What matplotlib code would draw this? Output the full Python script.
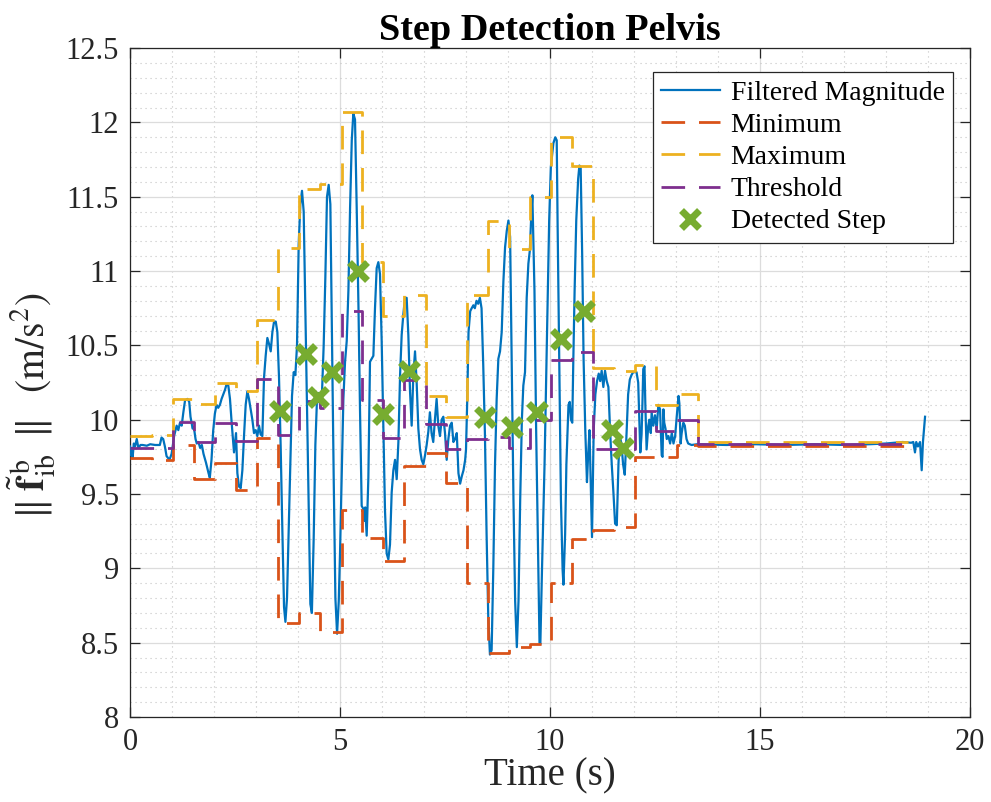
import matplotlib
matplotlib.use("Agg")
import matplotlib.pyplot as plt
from matplotlib.ticker import MultipleLocator, FuncFormatter

plt.rcParams['font.family'] = ['Liberation Serif', 'DejaVu Serif']
plt.rcParams['mathtext.fontset'] = 'stix'

# ---------------- data ----------------
time_s = [0.00, 0.02, 0.04, 0.06, 0.09, 0.12, 0.16, 0.20, 0.25, 0.30, 0.40, 0.48, 0.60, 0.71, 0.75,
          0.79, 0.83, 0.87, 0.94, 0.99, 1.05, 1.11, 1.15, 1.19, 1.23, 1.27, 1.31, 1.37, 1.41, 1.44,
          1.49, 1.52, 1.56, 1.59, 1.63, 1.67, 1.71, 1.75, 1.81, 1.87, 1.90, 1.94, 1.98, 2.02, 2.06,
          2.10, 2.14, 2.18, 2.22, 2.26, 2.30, 2.34, 2.38, 2.42, 2.476, 2.524, 2.556, 2.595, 2.635, 2.675,
          2.714, 2.754, 2.794, 2.833, 2.873, 2.913, 2.952, 2.992, 3.032, 3.071, 3.111, 3.151, 3.19, 3.23, 3.27,
          3.31, 3.35, 3.39, 3.43, 3.47, 3.508, 3.548, 3.587, 3.627, 3.667, 3.70, 3.738, 3.778, 3.817, 3.857,
          3.897, 3.937, 3.976, 4.016, 4.056, 4.095, 4.135, 4.175, 4.214, 4.254, 4.294, 4.33, 4.373, 4.413, 4.452,
          4.492, 4.532, 4.571, 4.611, 4.651, 4.69, 4.73, 4.77, 4.81, 4.85, 4.89, 4.93, 4.97, 5.00, 5.04,
          5.08, 5.12, 5.16, 5.20, 5.24, 5.28, 5.317, 5.357, 5.397, 5.44, 5.476, 5.516, 5.556, 5.58, 5.60,
          5.635, 5.675, 5.714, 5.754, 5.794, 5.833, 5.873, 5.913, 5.952, 5.992, 6.032, 6.071, 6.111, 6.151, 6.19,
          6.23, 6.27, 6.31, 6.35, 6.39, 6.43, 6.468, 6.508, 6.548, 6.587, 6.627, 6.667, 6.706, 6.746, 6.786,
          6.825, 6.865, 6.905, 6.944, 6.984, 7.024, 7.063, 7.103, 7.14, 7.18, 7.22, 7.26, 7.30, 7.34, 7.38,
          7.42, 7.46, 7.50, 7.54, 7.58, 7.62, 7.66, 7.70, 7.74, 7.78, 7.82, 7.86, 7.90, 7.94, 7.98,
          8.00, 8.03, 8.06, 8.10, 8.135, 8.175, 8.21, 8.25, 8.29, 8.33, 8.37, 8.41, 8.45, 8.49, 8.53,
          8.57, 8.61, 8.65, 8.69, 8.73, 8.77, 8.81, 8.85, 8.89, 8.93, 8.97, 9.01, 9.05, 9.09, 9.13,
          9.17, 9.21, 9.25, 9.29, 9.33, 9.365, 9.405, 9.445, 9.485, 9.52, 9.55, 9.58, 9.63, 9.67, 9.71,
          9.75, 9.77, 9.81, 9.87, 9.91, 9.95, 9.98, 10.02, 10.08, 10.125, 10.16, 10.18, 10.22, 10.26, 10.30,
          10.32, 10.36, 10.39, 10.44, 10.47, 10.50, 10.53, 10.555, 10.586, 10.625, 10.67, 10.70, 10.73, 10.766, 10.80,
          10.84, 10.88, 10.906, 10.94, 10.96, 11.00, 11.04, 11.08, 11.12, 11.16, 11.195, 11.23, 11.27, 11.31, 11.35,
          11.39, 11.43, 11.47, 11.51, 11.55, 11.59, 11.63, 11.66, 11.70, 11.74, 11.78, 11.82, 11.86, 11.90, 11.94,
          11.98, 12.06, 12.10, 12.15, 12.18, 12.20, 12.22, 12.25, 12.27, 12.30, 12.34, 12.365, 12.40, 12.42, 12.46,
          12.50, 12.54, 12.58, 12.62, 12.66, 12.68, 12.70, 12.72, 12.75, 12.78, 12.82, 12.86, 12.90, 12.94, 12.98,
          13.02, 13.06, 13.08, 13.11, 13.135, 13.175, 13.21, 13.25, 13.29, 13.37, 13.5, 14.2, 14.9, 15.6, 16.3,
          17.0, 17.6, 18.0, 18.4, 18.6, 18.65, 18.69, 18.72, 18.76, 18.81, 18.85, 18.88, 18.93]

filtered_mag = [9.82, 9.76, 9.81, 9.74, 9.84, 9.82, 9.87, 9.81, 9.83, 9.83, 9.825, 9.835, 9.83, 9.83, 9.88,
                9.87, 9.82, 9.755, 9.73, 9.77, 9.89, 9.96, 9.93, 9.98, 9.96, 10.05, 10.13, 10.14, 10.12, 10.02,
                9.94, 9.95, 9.87, 9.84, 9.85, 9.81, 9.83, 9.77, 9.71, 9.64, 9.61, 9.73, 9.925, 10.04, 10.10,
                10.08, 10.10, 10.14, 10.17, 10.20, 10.24, 10.23, 10.14, 9.98, 9.78, 9.91, 9.64, 9.55, 9.54, 9.66,
                9.89, 10.10, 10.19, 10.14, 10.07, 10.00, 9.91, 9.93, 9.89, 9.96, 9.90, 9.89, 10.28, 10.43, 10.55,
                10.51, 10.46, 10.59, 10.66, 10.66, 10.59, 10.28, 9.82, 9.26, 8.74, 8.64, 8.80, 9.26, 9.71, 10.16,
                10.32, 10.30, 10.50, 11.18, 11.45, 11.54, 11.40, 10.73, 10.05, 9.37, 8.76, 8.70, 9.20, 9.83, 10.14,
                10.18, 10.08, 10.18, 10.50, 10.96, 11.50, 11.58, 11.45, 10.50, 9.60, 8.80, 8.56, 8.78, 9.10, 9.62,
                10.14, 10.39, 10.53, 10.87, 11.43, 11.88, 12.06, 12.02, 11.43, 10.75, 10.07, 9.42, 9.40, 9.32, 9.41,
                9.22, 9.61, 10.39, 10.41, 10.43, 10.75, 11.02, 11.06, 10.98, 10.53, 9.96, 9.39, 9.10, 9.06, 9.16,
                9.51, 9.66, 9.73, 9.60, 9.85, 10.30, 10.57, 10.71, 10.82, 10.82, 10.57, 10.19, 9.96, 10.30, 10.46,
                10.25, 9.94, 9.80, 9.73, 9.70, 9.76, 9.83, 9.92, 10.05, 9.91, 9.85, 10.00, 10.14, 9.96, 9.89,
                10.00, 10.02, 9.91, 9.73, 9.87, 9.96, 9.98, 9.85, 9.87, 9.91, 9.64, 9.57, 9.62, 9.66, 9.73,
                9.80, 10.14, 10.59, 10.73, 10.75, 10.77, 10.75, 10.80, 10.78, 10.82, 10.75, 10.37, 9.91, 9.23, 8.67,
                8.42, 8.45, 9.00, 9.69, 10.14, 10.41, 10.46, 10.59, 10.93, 11.16, 11.27, 11.34, 11.23, 10.37, 9.46,
                8.78, 8.47, 8.78, 9.46, 10.00, 10.23, 10.32, 10.82, 11.05, 11.14, 11.35, 11.51, 10.87, 9.93, 9.23,
                8.50, 8.49, 9.00, 9.70, 10.29, 10.87, 11.34, 11.70, 11.86, 11.90, 11.88, 11.34, 10.40, 9.46, 8.99,
                8.89, 9.23, 9.70, 10.10, 10.12, 10.00, 9.98, 10.40, 10.87, 11.34, 11.62, 11.71, 11.70, 11.11, 10.40,
                9.93, 9.58, 9.75, 9.93, 9.70, 9.21, 9.93, 10.17, 10.26, 10.31, 10.26, 10.33, 10.22, 10.33, 10.26,
                10.22, 9.93, 9.70, 9.51, 9.30, 9.29, 9.70, 9.89, 9.84, 9.70, 9.63, 9.89, 10.17, 10.27, 10.30,
                10.32, 10.32, 10.25, 9.78, 9.90, 10.10, 10.34, 10.36, 10.10, 9.80, 9.96, 10.00, 9.91, 10.05, 9.96,
                10.03, 9.94, 10.10, 10.07, 9.76, 9.75, 10.07, 9.98, 9.94, 9.87, 9.89, 9.84, 9.91, 9.84, 9.89,
                10.03, 10.16, 10.11, 9.84, 9.91, 9.98, 9.96, 9.87, 9.84, 9.83, 9.835, 9.83, 9.835, 9.83, 9.835,
                9.83, 9.835, 9.84, 9.85, 9.845, 9.85, 9.78, 9.85, 9.82, 9.85, 9.66, 9.85, 10.02]

# window start times of the step estimates (last entry = end of the last window)
window_t = [0.0, 0.53, 1.03, 1.53, 2.03, 2.53, 3.02, 3.53, 4.02, 4.52, 5.04, 5.53, 6.03, 6.53,
            7.04, 7.53, 8.02, 8.53, 9.03, 9.53, 10.02, 10.53, 11.03, 11.53, 12.03, 12.53, 13.03, 13.53, 18.53]
minimum_v = [9.74, 9.73, 9.83, 9.60, 9.71, 9.53, 9.88, 8.635, 8.70, 8.57, 9.39, 9.205, 9.05, 9.69,
             9.775, 9.575, 8.90, 8.43, 8.47, 8.49, 8.90, 9.20, 9.26, 9.28, 9.75, 9.75, 9.83, 9.825]
maximum_v = [9.89, 9.90, 10.14, 10.105, 10.25, 10.19, 10.67, 11.155, 11.55, 11.585, 12.07, 11.06, 10.70, 10.84,
             10.16, 10.02, 10.84, 11.34, 11.15, 11.50, 11.90, 11.71, 10.345, 10.325, 10.37, 10.10, 10.17, 9.85]
threshold_v = [9.81, 9.81, 9.985, 9.85, 9.98, 9.86, 10.275, 9.895, 10.125, 10.08, 10.73, 10.13, 9.875, 10.265,
               9.97, 9.80, 9.87, 9.885, 9.81, 9.995, 10.40, 10.455, 9.80, 9.80, 10.06, 9.925, 10.0, 9.835]

step_t = [3.57, 4.18, 4.48, 4.80, 5.42, 6.03, 6.64, 8.45, 9.10, 9.68, 10.26, 10.82, 11.47, 11.74]
step_v = [10.06, 10.44, 10.15, 10.32, 11.00, 10.04, 10.325, 10.02, 9.95, 10.05, 10.54, 10.73, 9.93, 9.81]

# ---------------- plot ----------------
fig = plt.figure(figsize=(9.91, 8.02), dpi=100)
ax = fig.add_axes([0.1312, 0.106, 0.8476, 0.834])

c_blue, c_red, c_yel, c_pur, c_grn = '#0072BD', '#D95319', '#EDB120', '#7E2F8E', '#77AC30'
dash = (0, (8.5, 5))

ax.plot(time_s, filtered_mag, color=c_blue, lw=1.6, label='Filtered Magnitude', zorder=3)
ax.plot(window_t, minimum_v + [minimum_v[-1]], color=c_red, lw=2, ls=dash,
        drawstyle='steps-post', label='Minimum', zorder=4)
ax.plot(window_t, maximum_v + [maximum_v[-1]], color=c_yel, lw=2, ls=dash,
        drawstyle='steps-post', label='Maximum', zorder=4)
ax.plot(window_t, threshold_v + [threshold_v[-1]], color=c_pur, lw=2, ls=dash,
        drawstyle='steps-post', label='Threshold', zorder=4)
ax.plot(step_t, step_v, ls='none', marker='x', ms=13, mew=5, color=c_grn,
        label='Detected Step', zorder=5)

ax.set_xlim(0, 20)
ax.set_ylim(8, 12.5)
ax.xaxis.set_major_locator(MultipleLocator(5))
ax.xaxis.set_minor_locator(MultipleLocator(1))
ax.yaxis.set_major_locator(MultipleLocator(0.5))
ax.yaxis.set_minor_locator(MultipleLocator(0.1))
ax.yaxis.set_major_formatter(FuncFormatter(lambda v, p: f'{v:g}'))

ax.grid(which='major', color='#dcdcdc', lw=0.9, ls='-')
ax.grid(which='minor', color='#c4c4c4', lw=0.8, ls=(0, (1, 3.5)))
ax.set_axisbelow(True)

ax.tick_params(which='major', direction='in', length=7, width=0.9, top=True, right=True,
               labelsize=22, colors='#262626', pad=8)
ax.tick_params(which='minor', length=0, top=True, right=True)
for lab in ax.get_xticklabels() + ax.get_yticklabels():
    lab.set_color('#262626')
for s in ax.spines.values():
    s.set_color('#262626')
    s.set_linewidth(0.9)

ax.set_title('Step Detection Pelvis', fontsize=27.5, fontweight='bold', pad=6)
ax.set_xlabel('Time (s)', fontsize=28, labelpad=0, color='#262626')
ax.set_ylabel(r'$\Vert\;\tilde{\mathbf{f}}^{\,\mathrm{b}}_{\mathrm{ib}}\;\;\Vert\;\;\;(\mathrm{m/s^2})$',
              fontsize=28.5, color='#262626')
ax.yaxis.set_label_coords(-0.086, 0.465)

leg = ax.legend(loc='upper right', bbox_to_anchor=(0.9798, 0.9641), borderaxespad=0,
                fontsize=20, frameon=True, fancybox=False,
                edgecolor='#262626', framealpha=1, borderpad=0.3, labelspacing=0.24,
                handlelength=2.1, handletextpad=0.4)
leg.get_frame().set_linewidth(0.9)

fig.savefig('out.png', dpi=100)
